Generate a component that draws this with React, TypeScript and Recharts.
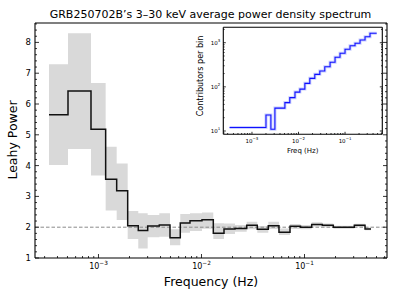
import React from "react";
import { ComposedChart, Line, Area, XAxis, YAxis, ReferenceLine } from "recharts";

// main PDS: bin edges (Hz), Leahy power per bin and the shaded band
const freqEdges = [
  3.31e-4, 5.06e-4, 8.46e-4, 1.174e-3, 1.502e-3, 1.921e-3, 2.434e-3, 3.004e-3,
  3.894e-3, 4.945e-3, 6.225e-3, 7.73e-3, 1.011e-2, 1.302e-2, 1.654e-2, 2.114e-2,
  2.747e-2, 3.48e-2, 4.45e-2, 5.65e-2, 7.23e-2, 9.14e-2, 0.1174, 0.1489, 0.1904,
  0.2417, 0.3044, 0.3867, 0.4421,
];
const leahyPower = [
  5.65, 6.42, 5.18, 3.56, 3.18, 2.05, 1.89, 2.04, 2.07, 1.66, 2.14, 2.21, 2.24, 1.8,
  1.94, 1.96, 2.06, 1.93, 2.05, 1.84, 2.03, 2.0, 2.09, 2.06, 2.0, 2.0, 2.06, 1.94,
];
const powerLow = [
  4.02, 4.54, 3.68, 2.54, 2.23, 1.62, 1.31, 1.67, 1.69, 1.41, 1.82, 1.88, 1.95, 1.62,
  1.78, 1.85, 1.93, 1.82, 1.94, 1.75, 1.94, 1.93, 2.02, 2.0, 1.95, 1.95, 2.01, 1.9,
];
const powerHigh = [
  7.29, 8.3, 6.68, 4.61, 4.07, 2.53, 2.45, 2.4, 2.45, 1.93, 2.43, 2.45, 2.48, 2.13,
  2.12, 2.07, 2.18, 2.04, 2.18, 1.96, 2.1, 2.07, 2.16, 2.12, 2.05, 2.05, 2.11, 1.99,
];

// inset: contributors per bin
const insetEdges = [
  3.3e-4, 2.0e-3, 2.55e-3, 3.11e-3, 5.1e-3, 6.5e-3, 8.4e-3, 1.07e-2, 1.37e-2, 1.75e-2,
  2.24e-2, 2.87e-2, 3.67e-2, 4.77e-2, 6.1e-2, 7.8e-2, 0.1, 0.128, 0.164, 0.21, 0.269,
  0.344, 0.479,
];
const contributors = [
  12, 23, 11, 33, 44, 57, 76, 89, 120, 156, 192, 229, 286, 360, 467, 575, 709, 855, 969,
  1151, 1368, 1633,
];

const xDomain: [number, number] = [2.42e-4, 0.632];
const yDomain: [number, number] = [1, 8.63];
const insetYDomain: [number, number] = [8.42, 2233];

const FONT = "DejaVu Sans, sans-serif";

const mainRows = freqEdges.map((f, i) => {
  const k = Math.min(i, leahyPower.length - 1);
  return { f, p: leahyPower[k], band: [powerLow[k], powerHigh[k]] };
});
const insetRows = insetEdges.map((f, i) => ({
  f,
  n: contributors[Math.min(i, contributors.length - 1)],
}));

function logTicks(lo: number, hi: number) {
  const out: number[] = [];
  for (let e = Math.floor(Math.log10(lo)); e <= Math.ceil(Math.log10(hi)); e++) {
    for (let m = 1; m < 10; m++) {
      const v = m * Math.pow(10, e);
      if (v >= lo && v <= hi) out.push(v);
    }
  }
  return out;
}
const linTicks = (lo: number, hi: number, step: number) => {
  const out: number[] = [];
  for (let v = lo; v <= hi + 1e-9; v += step) out.push(Math.round(v * 100) / 100);
  return out;
};

const isDecade = (v: number) => Math.abs(Math.log10(v) - Math.round(Math.log10(v))) < 1e-6;
const isInt = (v: number) => Math.abs(v - Math.round(v)) < 1e-6;

const mainXTicks = logTicks(xDomain[0], xDomain[1]);
const mainYTicks = linTicks(1, 8.6, 0.2);
const insetYTicks = logTicks(insetYDomain[0], insetYDomain[1]);

function PowLabel({ x, y, exp, fs, anchor }: any) {
  return (
    <text x={x} y={y} textAnchor={anchor} fontSize={fs} fontFamily={FONT} fill="#000">
      <tspan>10</tspan>
      <tspan dy={-fs * 0.45} fontSize={fs * 0.72}>
        {exp}
      </tspan>
    </text>
  );
}

function makeTick(side: string, kind: string, fs: number, major: number, minor: number, showLabel: boolean) {
  return (props: any) => {
    const { x, y, payload } = props;
    const v = payload.value;
    const isMajor = kind === "log" ? isDecade(v) : isInt(v);
    const len = isMajor ? major : minor;
    let line;
    if (side === "bottom") line = <line x1={x} y1={y} x2={x} y2={y - len} stroke="#000" strokeWidth={0.8} />;
    else if (side === "top") line = <line x1={x} y1={y} x2={x} y2={y + len} stroke="#000" strokeWidth={0.8} />;
    else if (side === "left") line = <line x1={x} y1={y} x2={x + len} y2={y} stroke="#000" strokeWidth={0.8} />;
    else line = <line x1={x} y1={y} x2={x - len} y2={y} stroke="#000" strokeWidth={0.8} />;
    let label = null;
    if (showLabel && isMajor) {
      const exp = String(Math.round(Math.log10(v))).replace("-", "\u2212");
      if (side === "bottom") {
        label =
          kind === "log" ? (
            <PowLabel x={x} y={y + fs + 3} exp={exp} fs={fs} anchor="middle" />
          ) : null;
      } else if (side === "left") {
        label =
          kind === "log" ? (
            <PowLabel x={x - 3} y={y + fs * 0.35} exp={exp} fs={fs} anchor="end" />
          ) : (
            <text x={x - 4} y={y + fs * 0.36} textAnchor="end" fontSize={fs} fontFamily={FONT} fill="#000">
              {String(Math.round(v))}
            </text>
          );
      }
    }
    return (
      <g>
        {line}
        {label}
      </g>
    );
  };
}

const frame = { stroke: "#000", strokeWidth: 1.1 };

export default function App() {
  return (
    <div style={{ position: "absolute", left: 0, top: 0, width: 397, height: 297, background: "#fff", fontFamily: FONT, color: "#000" }}>
      <ComposedChart width={397} height={297} data={mainRows} margin={{ top: 0, right: 0, bottom: 0, left: 0 }}>
        <XAxis
          dataKey="f"
          type="number"
          scale="log"
          domain={xDomain}
          allowDataOverflow
          ticks={mainXTicks}
          interval={0}
          height={39}
          tickSize={0}
          tickMargin={0}
          axisLine={frame}
          tickLine={false}
          tick={makeTick("bottom", "log", 8, 4, 2, true)}
        />
        <XAxis
          xAxisId="top"
          orientation="top"
          type="number"
          scale="log"
          domain={xDomain}
          allowDataOverflow
          ticks={mainXTicks}
          interval={0}
          height={23}
          tickSize={0}
          tickMargin={0}
          axisLine={frame}
          tickLine={false}
          tick={makeTick("top", "log", 8, 4, 2, false)}
        />
        <YAxis
          type="number"
          domain={yDomain}
          allowDataOverflow
          ticks={mainYTicks}
          interval={0}
          width={35}
          tickSize={0}
          tickMargin={0}
          axisLine={frame}
          tickLine={false}
          tick={makeTick("left", "lin", 8.5, 4, 2, true)}
        />
        <YAxis
          yAxisId="right"
          orientation="right"
          type="number"
          domain={yDomain}
          allowDataOverflow
          ticks={mainYTicks}
          interval={0}
          width={10}
          tickSize={0}
          tickMargin={0}
          axisLine={frame}
          tickLine={false}
          tick={makeTick("right", "lin", 8, 4, 2, false)}
        />
        <Area
          dataKey="band"
          type="stepAfter"
          fill="#d9d9d9"
          fillOpacity={1}
          stroke="none"
          isAnimationActive={false}
        />
        <ReferenceLine y={2} stroke="#8a8a8a" strokeWidth={1} strokeDasharray="3.5 2" />
        <Line
          dataKey="p"
          type="stepAfter"
          stroke="#111"
          strokeWidth={1.5}
          dot={false}
          isAnimationActive={false}
        />
      </ComposedChart>

      <div style={{ position: "absolute", left: 190, top: 20 }}>
        <ComposedChart width={200} height={140} data={insetRows} margin={{ top: 0, right: 0, bottom: 0, left: 0 }}>
          <XAxis
            dataKey="f"
            type="number"
            scale="log"
            domain={xDomain}
            allowDataOverflow
            ticks={mainXTicks}
            interval={0}
            height={25.7}
            tickSize={0}
            tickMargin={0}
            axisLine={frame}
            tickLine={false}
            tick={makeTick("bottom", "log", 5.5, 2.5, 1.3, true)}
          />
          <XAxis
            xAxisId="top"
            orientation="top"
            type="number"
            scale="log"
            domain={xDomain}
            allowDataOverflow
            ticks={mainXTicks}
            interval={0}
            height={7.3}
            tickSize={0}
            tickMargin={0}
            axisLine={frame}
            tickLine={false}
            tick={makeTick("top", "log", 5.5, 2.5, 1.3, false)}
          />
          <YAxis
            type="number"
            scale="log"
            domain={insetYDomain}
            allowDataOverflow
            ticks={insetYTicks}
            interval={0}
            width={33.3}
            tickSize={0}
            tickMargin={0}
            axisLine={frame}
            tickLine={false}
            tick={makeTick("left", "log", 5.5, 2.5, 1.3, true)}
          />
          <YAxis
            yAxisId="right"
            orientation="right"
            type="number"
            scale="log"
            domain={insetYDomain}
            allowDataOverflow
            ticks={insetYTicks}
            interval={0}
            width={7.7}
            tickSize={0}
            tickMargin={0}
            axisLine={frame}
            tickLine={false}
            tick={makeTick("right", "log", 5.5, 2.5, 1.3, false)}
          />
          <Line
            dataKey="n"
            type="stepAfter"
            stroke="#a3adff"
            strokeOpacity={0.6}
            strokeWidth={3}
            dot={false}
            isAnimationActive={false}
          />
          <Line
            dataKey="n"
            type="stepAfter"
            stroke="#1010ff"
            strokeWidth={1.1}
            dot={false}
            isAnimationActive={false}
          />
        </ComposedChart>
      </div>

      <div style={{ position: "absolute", left: 210.5, top: 14, transform: "translate(-50%,-50%)", fontSize: 11, whiteSpace: "nowrap" }}>
        GRB250702B’s 3–30 keV average power density spectrum
      </div>
      <div style={{ position: "absolute", left: 211, top: 281, transform: "translate(-50%,-50%)", fontSize: 12.5, whiteSpace: "nowrap" }}>
        Frequency (Hz)
      </div>
      <div style={{ position: "absolute", left: 12, top: 140, transform: "translate(-50%,-50%) rotate(-90deg)", fontSize: 12.5, whiteSpace: "nowrap" }}>
        Leahy Power
      </div>
      <div style={{ position: "absolute", left: 302.7, top: 151, transform: "translate(-50%,-50%)", fontSize: 7, whiteSpace: "nowrap", color: "#000" }}>
        Freq (Hz)
      </div>
      <div style={{ position: "absolute", left: 200, top: 76, transform: "translate(-50%,-50%) rotate(-90deg)", fontSize: 8, whiteSpace: "nowrap", color: "#000" }}>
        Contributors per bin
      </div>
    </div>
  );
}
